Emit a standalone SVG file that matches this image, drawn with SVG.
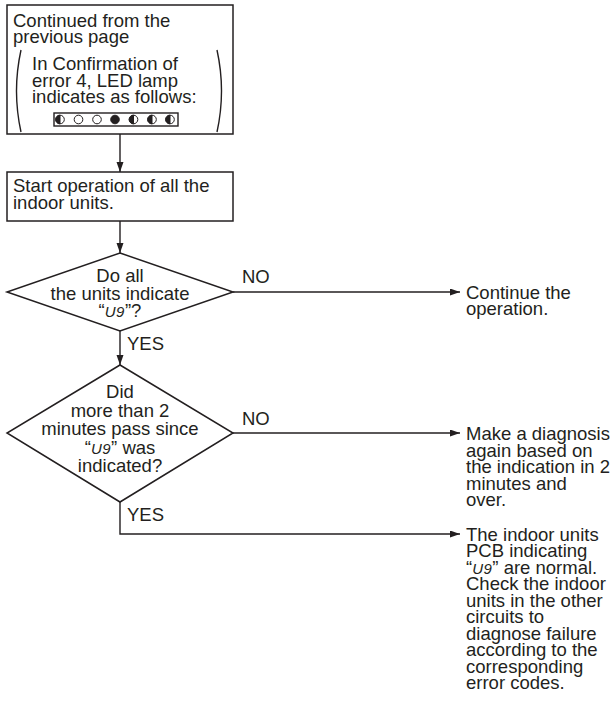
<svg xmlns="http://www.w3.org/2000/svg" width="613" height="709" viewBox="0 0 613 709">
<style>
text{font-family:"Liberation Sans",Arial,sans-serif;font-size:18.5px;fill:#231f20}
.c{text-anchor:middle}
.box{fill:#fff;stroke:#231f20;stroke-width:1.5}
.ln{fill:none;stroke:#231f20;stroke-width:1.4}
.seg{font-style:italic;font-size:15px;letter-spacing:0.5px}
.led{stroke:#231f20;stroke-width:1}
</style>
<defs>
<marker id="ah" markerUnits="userSpaceOnUse" markerWidth="11" markerHeight="8" refX="10" refY="3.5" orient="auto">
<path d="M0,0 L10,3.5 L0,7 z" fill="#231f20"/>
</marker>
<clipPath id="lh"><rect x="-5" y="-5" width="5" height="10"/></clipPath>
</defs>
<rect width="613" height="709" fill="#fff"/>
<g id="start">
<rect class="box" x="7" y="5" width="226" height="129"/>
<text x="13" y="27">Continued from the</text>
<text x="13" y="43">previous page</text>
<path class="ln" d="M21,50 Q12,91 21,132"/>
<path class="ln" d="M217,50 Q226,91 217,132"/>
<text x="32" y="70">In Confirmation of</text>
<text x="32" y="87">error 4, LED lamp</text>
<text x="32" y="103">indicates as follows:</text>
<rect x="54" y="113" width="124" height="13" fill="#fff" stroke="#231f20" stroke-width="1.4"/>
<g class="led">
<g transform="translate(60,119.5)"><circle r="4.3" fill="#fff"/><path d="M0,-4.3 A4.3,4.3 0 0 0 0,4.3 z" fill="#231f20"/></g>
<circle cx="78.5" cy="119.5" r="4.3" fill="#fff"/>
<circle cx="97" cy="119.5" r="4.3" fill="#fff"/>
<circle cx="115" cy="119.5" r="4.3" fill="#231f20"/>
<g transform="translate(133.5,119.5)"><circle r="4.3" fill="#fff"/><path d="M0,-4.3 A4.3,4.3 0 0 0 0,4.3 z" fill="#231f20"/></g>
<g transform="translate(152,119.5)"><circle r="4.3" fill="#fff"/><path d="M0,-4.3 A4.3,4.3 0 0 0 0,4.3 z" fill="#231f20"/></g>
<g transform="translate(170,119.5)"><circle r="4.3" fill="#fff"/><path d="M0,-4.3 A4.3,4.3 0 0 0 0,4.3 z" fill="#231f20"/></g>
</g>
</g>
<g id="op">
<rect class="box" x="7" y="172" width="226" height="49"/>
<text x="13" y="192">Start operation of all the</text>
<text x="13" y="209">indoor units.</text>
</g>
<g id="q1">
<polygon class="box" points="120,253 233,292 120,331 7,292"/>
<text class="c" x="120" y="282">Do all</text>
<text class="c" x="120" y="300">the units indicate</text>
<text class="c" x="120" y="317">“<tspan class="seg">U9</tspan>”?</text>
</g>
<g id="q2">
<polygon class="box" points="120,365 233,433 120,502 7,433"/>
<text class="c" x="120" y="398">Did</text>
<text class="c" x="120" y="417">more than 2</text>
<text class="c" x="120" y="435">minutes pass since</text>
<text class="c" x="120" y="454">“<tspan class="seg">U9</tspan>” was</text>
<text class="c" x="120" y="472">indicated?</text>
</g>
<g id="r1">
<text x="466" y="298.5">Continue the</text>
<text x="466" y="315">operation.</text>
</g>
<g id="r2">
<text x="466" y="440">Make a diagnosis</text>
<text x="466" y="456.5">again based on</text>
<text x="466" y="473">the indication in 2</text>
<text x="466" y="489.5">minutes and</text>
<text x="466" y="506">over.</text>
</g>
<g id="r3">
<text x="466" y="540.5">The indoor units</text>
<text x="466" y="557">PCB indicating</text>
<text x="466" y="573.5">“<tspan class="seg">U9</tspan>” are normal.</text>
<text x="466" y="590">Check the indoor</text>
<text x="466" y="606.5">units in the other</text>
<text x="466" y="623">circuits to</text>
<text x="466" y="639.5">diagnose failure</text>
<text x="466" y="656">according to the</text>
<text x="466" y="672.5">corresponding</text>
<text x="466" y="689">error codes.</text>
</g>
<g id="connectors">
<line class="ln" x1="120" y1="134" x2="120" y2="172" marker-end="url(#ah)"/>
<line class="ln" x1="120" y1="221" x2="120" y2="253" marker-end="url(#ah)"/>
<line class="ln" x1="233" y1="292" x2="460" y2="292" marker-end="url(#ah)"/>
<text x="242" y="283">NO</text>
<line class="ln" x1="120" y1="331" x2="120" y2="365" marker-end="url(#ah)"/>
<text x="127" y="350">YES</text>
<line class="ln" x1="233" y1="433" x2="460" y2="433" marker-end="url(#ah)"/>
<text x="242" y="425">NO</text>
<polyline class="ln" points="120,502 120,534 460,534" marker-end="url(#ah)"/>
<text x="127" y="521">YES</text>
</g>
</svg>
